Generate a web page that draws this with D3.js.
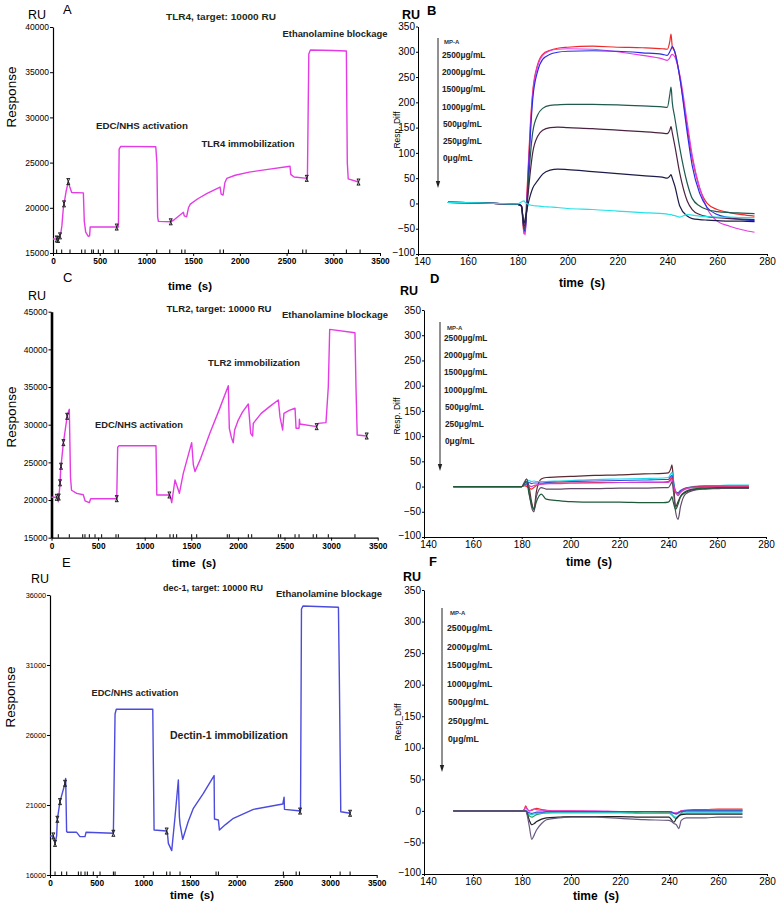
<!DOCTYPE html>
<html><head><meta charset="utf-8">
<script src="https://cdn.jsdelivr.net/npm/d3@7"></script>
<style>
body{margin:0;background:#fff}
svg{display:block}
text{font-family:"Liberation Sans",Arial,sans-serif}
</style>
</head><body>
<svg id="c" width="783" height="909"></svg>
<script>
// ---------------- DATA ----------------
// Panel A: TLR4 immobilization sensorgram
const traceA_time = [0,45,55,65,82,95,111,140,164,180,200,325,335,350,378,392,398,700,708,725,1100,1112,1120,1128,1260,1300,1396,1405,1430,1450,1470,1550,1650,1788,1800,1820,1840,1860,1950,2100,2300,2537,2545,2580,2723,2738,2755,3000,3140,3150,3160,3270];
const traceA_resp = [16550,16550,16500,16600,17100,18000,20000,21800,22900,22300,21700,21650,18500,17300,16850,16900,17870,17870,26500,26800,26750,25000,19000,18500,18450,18700,19500,19100,19000,20000,20400,21000,21600,22300,21500,21400,22800,23250,23600,23950,24250,24600,23700,23400,23250,37000,37450,37400,37350,25000,23200,22850];
const markersA = [40,55,75,118,164,682,1260,2716,3270];
const eventsA = [39,93,182,307,343,414,432,485,539,664,700,1110,1250,1378,1413,1788,1824,2520,2673,2709,3140,3287];

// Panel C: TLR2 immobilization sensorgram
const traceC_time = [0,56,66,73,91,98,127,170,191,204,215,270,341,360,406,420,700,710,725,1121,1130,1271,1290,1325,1343,1372,1414,1504,1522,1540,1600,1700,1800,1897,1908,1930,1950,1965,2000,2050,2112,2137,2158,2165,2250,2350,2434,2452,2480,2494,2550,2613,2624,2656,2660,2666,2845,2862,2945,2970,2985,3256,3267,3280,3382];
const traceC_resp = [20360,20360,20300,19780,22000,24000,27530,31290,32040,23000,21300,20890,20700,19900,19650,20180,20180,27000,27210,27200,20670,20670,19650,22660,22000,20890,23540,27620,24670,23780,25500,28900,32000,35180,29500,28300,27600,29300,30500,31700,32750,28860,28500,30180,31500,32500,33280,31000,29300,31510,31900,32180,29520,29520,30720,30100,29740,30180,30270,35000,42660,42210,35000,28630,28500];
const markersC = [56,78,92,102,128,168,700,1265,2845,3382];
const eventsC = [73,191,335,359,406,467,538,692,717,1128,1271,1307,1343,1504,1558,1886,1908,2112,2148,2434,2459,2613,2656,2808,2845,2970,3256];

// Panel E: Dectin-1 immobilization sensorgram
const traceE_time = [0,36,54,71,79,107,161,168,178,190,286,321,375,386,679,697,710,1101,1115,1250,1261,1268,1304,1340,1375,1386,1393,1422,1480,1536,1643,1758,1762,1804,1815,1880,1965,2179,2494,2508,2512,2661,2684,2694,2710,3090,3100,3115,3215];
const traceE_resp = [18790,18790,18260,18790,19980,21240,22550,22900,19100,19050,19050,18740,18740,19050,18980,27500,27840,27840,19210,19140,18780,18260,17740,20200,22790,20170,19640,18550,19800,20760,21830,23100,20000,19930,19210,19600,20050,20690,21070,21560,20690,20590,20560,35000,35210,35120,30000,20520,20410];
const markersE = [36,54,79,107,161,679,1250,2679,3215];
const eventsE = [54,125,179,304,332,375,400,464,536,679,697,1107,1250,1286,1393,1779,1804,2500,2637,2672,3108,3215];

const ticksTime = [0,500,1000,1500,2000,2500,3000,3500];
const ticksA = [15000,20000,25000,30000,35000,40000];
const ticksC = [15000,20000,25000,30000,35000,40000,45000];
const ticksE = [16000,21000,26000,31000,36000];

// Legend / concentrations
const concLabels = ["2500\u03bcg/mL","2000\u03bcg/mL","1500\u03bcg/mL","1000\u03bcg/mL","500\u03bcg/mL","250\u03bcg/mL","0\u03bcg/mL"];
const ticksKinX = [140,160,180,200,220,240,260,280];
const ticksKinY = [-100,-50,0,50,100,150,200,250,300,350];

// Panel B: TLR4 binding kinetics
const kinB_time = [152,165,180,181.5,182.5,183,184,185,186,188,190,193,196,200,210,220,230,238,240,241,241.5,242,243,245,248,250,253,256,260,265,270,275];
const kinB_2500 = [2,1,-2,-5,-60,-40,50,150,220,275,295,303,307,309,311,309,308,306,305,320,335,310,300,250,150,90,30,0,-12,-18,-22,-25];
const kinB_2000 = [2,1,-2,-5,-55,-62,40,140,215,272,293,302,305,306,305,300,293,286,283,288,293,295,290,255,160,95,30,-10,-35,-45,-52,-57];
const kinB_1500 = [2,1,-2,-4,-50,-55,30,130,205,262,285,295,299,301,302,301,298,295,293,300,305,310,300,250,140,75,20,-8,-22,-28,-32,-34];
const kinB_1000 = [2,1,-2,-5,-50,-45,20,90,140,175,188,194,195,196,196,195,193,191,190,215,230,200,170,110,40,10,-5,-12,-16,-18,-19,-20];
const kinB_500  = [2,1,-2,-5,-45,-40,10,60,100,133,145,150,151,150,148,145,142,139,138,145,152,140,115,60,5,-12,-22,-26,-28,-30,-31,-32];
const kinB_250  = [2,1,-2,-5,-40,-30,-5,15,30,45,58,66,68,67,63,59,55,52,50,54,57,50,35,-5,-25,-30,-32,-33,-34,-35,-35,-36];
const kinB_0    = [2,1,-1,3,5,2,-1,-3,-4,-5,-6,-7,-8,-10,-12,-15,-18,-20,-21,-22,-22,-23,-24,-27,-22,-23,-25,-26,-27,-27,-28,-28];
const colorsB = ["#ee2a2a","#e63ce6","#2c2ce6","#1f5a4f","#4b2242","#1c1c4a","#22e2e8"];

// Panel D: TLR2 binding kinetics
const kinD_time = [152,165,180,181,182,183,184,185,186,188,190,195,200,210,220,230,238,240,241,241.5,242,243,244,245,247,250,255,260,265,273];
const kinD_s1 = [0,0,0,5,15,0,-30,-45,-10,15,18,19,20,22,23,25,26,27,35,43,20,-40,-30,-20,-12,-6,-4,-3,-3,-3];
const kinD_s2 = [0,0,0,3,8,12,10,11,10,10,10,11,12,14,15,16,17,18,25,28,15,-10,-15,-10,-4,0,2,2,3,3];
const kinD_s3 = [0,0,0,2,5,8,6,7,7,7,8,9,10,11,12,13,14,14,20,22,10,-10,-12,-8,-3,-1,1,1,1,1];
const kinD_s4 = [0,0,0,2,0,-3,-5,-2,2,5,6,7,7,8,8,9,9,10,15,18,5,-12,-15,-10,-4,-1,0,0,0,0];
const kinD_s5 = [0,0,0,2,3,2,0,2,3,5,6,6,7,7,8,8,8,8,12,14,5,-10,-18,-12,-5,-2,-1,-1,-1,-1];
const kinD_s6 = [0,0,0,8,15,-10,-40,-50,-20,-2,-5,-5,-4,-4,-3,-3,-2,-2,5,10,-5,-50,-65,-40,-15,-8,-5,-4,-3,-3];
const kinD_s7 = [0,0,0,5,10,-15,-35,-45,-30,-15,-25,-28,-30,-31,-31,-32,-32,-31,-25,-20,-30,-45,-35,-20,-10,-5,-3,-2,-2,-2];
const colorsD = ["#5a2a30","#22d8e8","#3050e0","#ee2a2a","#d040d0","#5e4a66","#1e5a3a"];

// Panel F: Dectin-1 binding kinetics
const kinF_time = [152,165,180,181,181.5,182,183,184,185,186,188,190,195,200,210,220,230,240,241,242,243,244,245,247,250,255,260,270];
const kinF_s1 = [0,0,0,3,8,4,0,1,3,4,2,1,0,0,-1,-1,-1,-2,-2,-4,-4,-2,0,1,2,2,3,3];
const kinF_s2 = [0,0,0,2,6,3,0,2,3,2,1,0,0,0,0,-1,-1,-1,-2,-3,-3,-2,0,1,1,1,2,2];
const kinF_s3 = [0,0,0,0,0,-2,-8,-10,-8,-6,-4,-3,-2,-2,-2,-2,-3,-3,-5,-10,-12,-8,-3,0,0,0,0,0];
const kinF_s4 = [0,0,0,0,0,-2,-5,-6,-5,-4,-3,-3,-3,-3,-3,-3,-4,-4,-6,-9,-10,-7,-4,-3,-3,-3,-3,-3];
const kinF_s5 = [0,0,0,0,0,-1,-3,-4,-3,-2,-2,-1,-1,-1,-1,-1,-1,-1,-2,-4,-5,-3,-1,0,0,0,0,0];
const kinF_s6 = [0,0,0,0,0,-3,-15,-22,-20,-17,-13,-11,-10,-9,-9,-9,-10,-10,-14,-18,-12,-8,-6,-5,-5,-5,-5,-5];
const kinF_s7 = [0,0,0,0,0,-5,-25,-45,-38,-30,-20,-14,-11,-10,-10,-12,-14,-15,-17,-20,-22,-28,-15,-11,-11,-11,-10,-10];
const colorsF = ["#ee2a2a","#e040e0","#2aa060","#22c8d8","#3050e0","#222222","#6a5a80"];

// ---------------- DRAWING ----------------
const svg = d3.select("#c");
const fmt = d3.format("d");

function txt(x, y, s, opts) {
  const t = svg.append("text").attr("x", x).attr("y", y).text(s)
    .attr("font-size", opts.size || 10)
    .attr("font-weight", opts.bold ? "bold" : "normal")
    .attr("fill", opts.fill || "#000")
    .attr("text-anchor", opts.anchor || "start");
  if (opts.family) t.attr("font-family", opts.family);
  if (opts.rotate) t.attr("transform", `rotate(-90,${x},${y})`);
  if (opts.len) t.attr("textLength", opts.len).attr("lengthAdjust", "spacingAndGlyphs");
  return t;
}

function interp(ts, vs, t) {
  const i = d3.bisectLeft(ts, t);
  if (i <= 0) return vs[0];
  if (i >= ts.length) return vs[vs.length - 1];
  const f = (t - ts[i - 1]) / (ts[i] - ts[i - 1]);
  return vs[i - 1] + f * (vs[i] - vs[i - 1]);
}

function drawTrace(cfg) {
  const x = d3.scaleLinear().domain([0, 3500]).range(cfg.xr);
  const y = d3.scaleLinear().domain(cfg.yd).range(cfg.yr);
  const g = svg.append("g");
  // x axis
  const ax = g.append("g").attr("transform", `translate(0,${cfg.yr[0]})`)
    .call(d3.axisBottom(x).tickValues(ticksTime).tickFormat(fmt).tickSize(3).tickPadding(2).tickSizeOuter(0));
  ax.attr("font-family", "DejaVu Sans").attr("font-size", 8.3).attr("font-weight", "bold");
  ax.select(".domain").attr("stroke-width", 1.2);
  // y axis
  const ay = g.append("g").attr("transform", `translate(${cfg.xr[0]},0)`)
    .call(d3.axisLeft(y).tickValues(cfg.yticks).tickFormat(fmt).tickSize(3).tickPadding(1).tickSizeOuter(0));
  ay.attr("font-family", "Liberation Sans").attr("font-size", cfg.ytickSize);
  ay.select(".domain").attr("stroke-width", cfg.yAxisW || 1.2);
  // event ticks
  g.selectAll("line.ev").data(cfg.events).join("line")
    .attr("x1", d => x(d)).attr("x2", d => x(d))
    .attr("y1", cfg.yr[0]).attr("y2", cfg.yr[0] - 3.5)
    .attr("stroke", "#000").attr("stroke-width", 1);
  // trace
  const line = d3.line().x(d => x(d[0])).y(d => y(d[1]));
  const pts = cfg.t.map((t, i) => [t, cfg.v[i]]);
  g.append("path").attr("d", line(pts)).attr("fill", "none")
    .attr("stroke", cfg.color).attr("stroke-width", 1.4).attr("stroke-linejoin", "round");
  // markers
  g.selectAll("path.mk").data(cfg.markers).join("path")
    .attr("transform", d => `translate(${x(d)},${y(interp(cfg.t, cfg.v, d))})`)
    .attr("d", "M-1.8,-3H1.8M-1.2,-3L1.2,3M1.2,-3L-1.2,3M-1.8,3H1.8")
    .attr("fill", "none").attr("stroke", "#222").attr("stroke-width", 1);
}

function drawKin(cfg) {
  const x = d3.scaleLinear().domain([140, 280]).range(cfg.xr);
  const y = d3.scaleLinear().domain([-100, 350]).range(cfg.yr);
  const g = svg.append("g");
  const ax = g.append("g").attr("transform", `translate(0,${cfg.yr[0]})`)
    .call(d3.axisBottom(x).tickValues(ticksKinX).tickFormat(fmt).tickSize(2).tickPadding(2).tickSizeOuter(0));
  ax.attr("font-family", "Liberation Sans").attr("font-size", 10);
  ax.selectAll(".tick text").filter(d => d === 140).attr("dx", 4);
  const ay = g.append("g").attr("transform", `translate(${cfg.xr[0]},0)`)
    .call(d3.axisLeft(y).tickValues(ticksKinY).tickFormat(fmt).tickSize(2).tickPadding(1).tickSizeOuter(0));
  ay.attr("font-family", "Liberation Sans").attr("font-size", 10);
  ay.selectAll(".tick text").filter(d => d === -100).attr("dy", "0.1em");
  const line = d3.line().x(d => x(d[0])).y(d => y(d[1])).curve(d3.curveMonotoneX);
  cfg.series.forEach((s, k) => {
    g.append("path").attr("d", line(cfg.t.map((t, i) => [t, s[i]])))
      .attr("fill", "none").attr("stroke", cfg.colors[k]).attr("stroke-width", 1.2);
  });
  // legend arrow
  const lg = cfg.legend;
  g.append("line").attr("x1", lg.ax).attr("x2", lg.ax).attr("y1", lg.ay0).attr("y2", lg.ay1 - 5)
    .attr("stroke", "#222").attr("stroke-width", 1);
  g.append("path").attr("d", `M${lg.ax - 2.2},${lg.ay1 - 7}L${lg.ax + 2.2},${lg.ay1 - 7}L${lg.ax},${lg.ay1}Z`).attr("fill", "#222");
  txt(lg.mpx, lg.mpy, "MP-A", {size: 6, bold: true, fill: "#333"});
  concLabels.forEach((c, i) => {
    txt(lg.lx + (i >= 4 ? 1 : 0), lg.ly0 + i * lg.dy, c, {size: lg.fs, bold: true, fill: "#222"});
  });
}

// Left panels
drawTrace({xr: [53, 380], yd: [15000, 40000], yr: [253, 27], yticks: ticksA, ytickSize: 8.5,
  t: traceA_time, v: traceA_resp, markers: markersA, events: eventsA, color: "#e43ce4"});
drawTrace({xr: [51.5, 377.7], yd: [15000, 45000], yr: [537.7, 311.7], yticks: ticksC, ytickSize: 8.5, yAxisW: 2.6,
  t: traceC_time, v: traceC_resp, markers: markersC, events: eventsC, color: "#e43ce4"});
drawTrace({xr: [50, 376.7], yd: [16000, 36000], yr: [875, 595], yticks: ticksE, ytickSize: 7.3,
  t: traceE_time, v: traceE_resp, markers: markersE, events: eventsE, color: "#4b4bdc"});

// Right panels
drawKin({xr: [418, 767], yr: [254, 26.5], t: kinB_time, colors: colorsB,
  series: [kinB_2500, kinB_2000, kinB_1500, kinB_1000, kinB_500, kinB_250, kinB_0],
  legend: {ax: 438, ay0: 38, ay1: 188, mpx: 444, mpy: 44, lx: 442, ly0: 58, dy: 17.2, fs: 8.3}});
drawKin({xr: [424, 766], yr: [537, 310], t: kinD_time, colors: colorsD,
  series: [kinD_s1, kinD_s2, kinD_s3, kinD_s4, kinD_s5, kinD_s6, kinD_s7],
  legend: {ax: 440, ay0: 322, ay1: 471, mpx: 447, mpy: 330, lx: 444, ly0: 341, dy: 17.2, fs: 8.3}});
drawKin({xr: [424, 767], yr: [874, 590], t: kinF_time, colors: colorsF,
  series: [kinF_s1, kinF_s2, kinF_s3, kinF_s4, kinF_s5, kinF_s6, kinF_s7],
  legend: {ax: 442, ay0: 608, ay1: 772, mpx: 450, mpy: 615, lx: 447, ly0: 631, dy: 18.5, fs: 8.7}});

// ---------------- TEXT ----------------
// Panel letters & RU
[["A",63,14,28,19],["C",63,282,28,300],["E",62,567,31,583]].forEach(r => {
  txt(r[1], r[2], r[0], {size: 13});
  txt(r[3], r[4], "RU", {size: 12.5});
});
[["B",427,15,402,19],["D",430,283,400,295],["F",429,566,403,581]].forEach(r => {
  txt(r[1], r[2], r[0], {size: 13, bold: true});
  txt(r[3], r[4], "RU", {size: 12.5, bold: true});
});

// Titles
txt(221, 20, "TLR4, target: 10000 RU", {size: 9.5, bold: true, anchor: "middle", fill: "#1c2e14", len: 110});
txt(219, 312, "TLR2, target: 10000 RU", {size: 9.5, bold: true, anchor: "middle", fill: "#1a1a1a", len: 105});
txt(213, 591, "dec-1, target: 10000 RU", {size: 9.5, bold: true, anchor: "middle", fill: "#1a1a1a", len: 100});

// Annotations
txt(335, 37, "Ethanolamine blockage", {size: 9.5, bold: true, anchor: "middle", fill: "#222", len: 105});
txt(335, 318, "Ethanolamine blockage", {size: 9.5, bold: true, anchor: "middle", fill: "#222", len: 106});
txt(329, 597, "Ethanolamine blockage", {size: 9.5, bold: true, anchor: "middle", fill: "#222", len: 106});
txt(142, 129, "EDC/NHS activation", {size: 9.7, bold: true, anchor: "middle", fill: "#222", len: 92});
txt(139, 428, "EDC/NHS activation", {size: 9.7, bold: true, anchor: "middle", fill: "#222", len: 88});
txt(135, 696, "EDC/NHS activation", {size: 9.7, bold: true, anchor: "middle", fill: "#222", len: 87});
txt(248, 147, "TLR4 immobilization", {size: 9.7, bold: true, anchor: "middle", fill: "#222", len: 93});
txt(254, 366, "TLR2 immobilization", {size: 9.7, bold: true, anchor: "middle", fill: "#222", len: 92});
txt(229, 739, "Dectin-1 immobilization", {size: 11, bold: true, anchor: "middle", fill: "#222", len: 118});

// Axis titles
txt(16, 97, "Response", {size: 13.5, anchor: "middle", rotate: true});
txt(16, 417, "Response", {size: 13.5, anchor: "middle", rotate: true});
txt(15, 697, "Response", {size: 13.5, anchor: "middle", rotate: true});
txt(190, 290, "time\u00a0\u00a0(s)", {size: 11.5, bold: true, anchor: "middle"});
txt(194, 567, "time\u00a0\u00a0(s)", {size: 11.5, bold: true, anchor: "middle"});
txt(192, 899, "time\u00a0\u00a0(s)", {size: 11.5, bold: true, anchor: "middle"});
txt(582, 287, "time\u00a0\u00a0(s)", {size: 12, bold: true, anchor: "middle"});
txt(589, 566, "time\u00a0\u00a0(s)", {size: 12, bold: true, anchor: "middle"});
txt(596, 900, "time\u00a0\u00a0(s)", {size: 12, bold: true, anchor: "middle"});
txt(400, 130, "Resp. Diff", {size: 8.5, anchor: "middle", rotate: true});
txt(400, 416, "Resp. Diff", {size: 8.5, anchor: "middle", rotate: true});
txt(401, 722, "Resp_Diff", {size: 8.5, anchor: "middle", rotate: true});
</script>
</body></html>
